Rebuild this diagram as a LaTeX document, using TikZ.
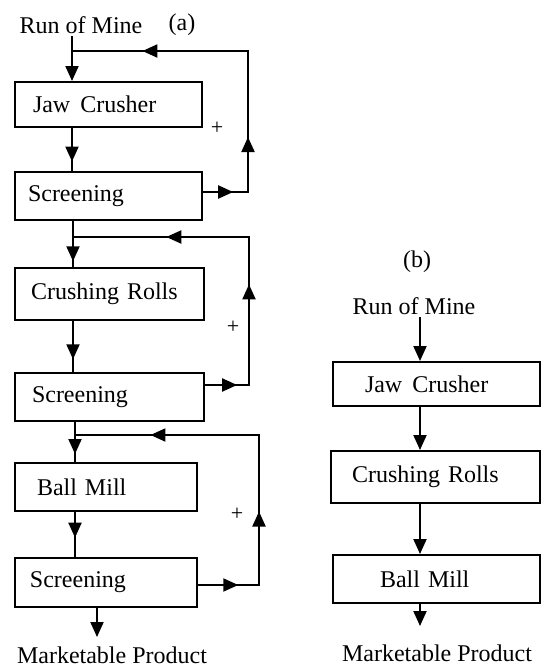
\documentclass[tikz,border=0pt]{standalone}
\usepackage{fontspec}
\setmainfont{Liberation Serif}
\usetikzlibrary{arrows.meta,decorations.markings}
\tikzset{
  mytip/.tip={Triangle[length=15pt,width=13pt]},
  ln/.style={line width=2pt, line cap=rect},
  box/.style={draw, line width=2pt, align=left, inner ysep=0pt, font=\fontsize{24}{28}\selectfont},
  lbl/.style={font=\fontsize{24}{28}\selectfont, inner sep=0pt},
  plus/.style={font=\fontsize{22}{26}\selectfont, inner sep=0pt},
  midtip/.style={decoration={markings, mark=at position #1 with {\arrow{mytip}}}, postaction={decorate}},
  endtip/.style={-{mytip}}
}
\begin{document}
\begin{tikzpicture}[x=1pt,y=-1pt]
\useasboundingbox (0,0) rectangle (542,670);

% ---------- (a) ----------
\node[lbl] (roma) at (81,25) {Run of Mine};
\node[lbl] (la) at (182,25) {(a)};

\node[box, minimum width=187pt, minimum height=45pt, inner xsep=18pt, text width=151pt] (ja) at (108.5,104.5) {Jaw\hspace{10pt}Crusher};
\node[box, minimum width=187pt, minimum height=48pt, inner xsep=13pt, text width=161pt] (s1) at (108.5,196) {Screening};
\node[box, minimum width=189pt, minimum height=52pt, inner xsep=16pt, text width=157pt] (cr) at (109.5,294) {Crushing Rolls};
\node[box, minimum width=189pt, minimum height=48pt, inner xsep=17pt, text width=155pt] (s2) at (109.5,397) {Screening};
\node[box, minimum width=182pt, minimum height=48pt, inner xsep=22pt, text width=138pt] (bm) at (106,487) {Ball Mill};
\node[box, minimum width=182pt, minimum height=49pt, inner xsep=15pt, text width=152pt] (s3) at (106,582.5) {Screening};

\node[lbl] (mpa) at (112,655) {Marketable Product};

\node[plus] (p1) at (217,128) {+};
\node[plus] (p2) at (233,327) {+};
\node[plus] (p3) at (237,514) {+};

\coordinate (a0) at (72,37);
\coordinate (j1) at (72,51);
\coordinate (r1) at (248,192);
\coordinate (t1) at (248,51);
\coordinate (j2) at (73,237);
\coordinate (r2) at (249,385);
\coordinate (t2) at (249,237);
\coordinate (j3) at (75,435);
\coordinate (r3) at (259,585);
\coordinate (t3) at (259,435);
\coordinate (ea) at (97,637);

% main chain
\draw[ln,endtip] (a0) -- (ja.north -| a0);
\draw[ln,midtip=0.78] (ja.south -| a0) -- (s1.north -| a0);
\draw[ln,midtip=0.875] (s1.south -| j2) -- (cr.north -| j2);
\draw[ln,midtip=0.75] (cr.south -| j2) -- (s2.north -| j2);
\draw[ln,midtip=0.8] (s2.south -| j3) -- (bm.north -| j3);
\draw[ln,midtip=0.57] (bm.south -| j3) -- (s3.north -| j3);
\draw[ln,endtip] (s3.south -| ea) -- (ea);

% recycle loops
\draw[ln,midtip=0.67] (r1 -| s1.east) -- (r1);
\draw[ln,midtip=0.39] (r1) -- (t1);
\draw[ln,midtip=0.6] (t1) -- (j1);

\draw[ln,midtip=0.73] (r2 -| s2.east) -- (r2);
\draw[ln,midtip=0.68] (r2) -- (t2);
\draw[ln,midtip=0.47] (t2) -- (j2);

\draw[ln,midtip=0.66] (r3 -| s3.east) -- (r3);
\draw[ln,midtip=0.49] (r3) -- (t3);
\draw[ln,midtip=0.59] (t3) -- (j3);

% ---------- (b) ----------
\node[lbl] (lb) at (417,262) {(b)};
\node[lbl] (romb) at (414,306) {Run of Mine};

\node[box, minimum width=207pt, minimum height=44pt, inner xsep=32pt, text width=143pt] (jb) at (436.5,384) {Jaw\hspace{10pt}Crusher};
\node[box, minimum width=209pt, minimum height=52pt, inner xsep=21pt, text width=167pt] (cb) at (435.5,477) {Crushing Rolls};
\node[box, minimum width=207pt, minimum height=48pt, inner xsep=47pt, text width=113pt] (bb) at (436.5,579) {Ball Mill};

\node[lbl] (mpb) at (437,653) {Marketable Product};

\coordinate (b0) at (420,318);
\coordinate (eb) at (420,626);
\draw[ln,endtip] (b0) -- (jb.north -| b0);
\draw[ln,endtip] (jb.south -| b0) -- (cb.north -| b0);
\draw[ln,endtip] (cb.south -| b0) -- (bb.north -| b0);
\draw[ln,endtip] (bb.south -| eb) -- (eb);
\end{tikzpicture}
\end{document}
